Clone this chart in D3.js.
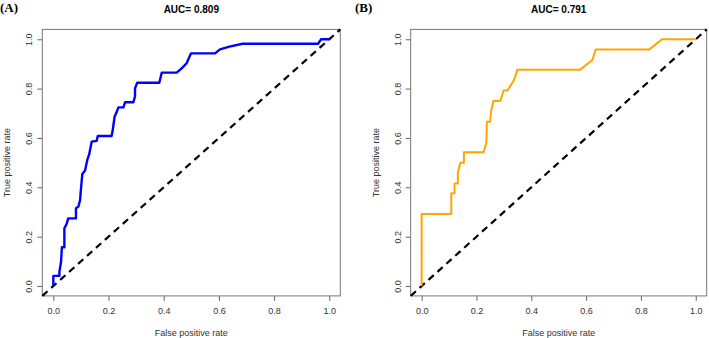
<!DOCTYPE html>
<html>
<head>
<meta charset="utf-8">
<script src="https://cdn.jsdelivr.net/npm/d3@7"></script>
<style>
  body { margin: 0; background: #fff; }
  svg { display: block; }
  text { font-family: "Liberation Sans", Arial, sans-serif; }
</style>
</head>
<body>
<div id="chart"></div>
<script>
// ROC curve A (FPR, TPR)
const fprA = [0, 0, 0.022, 0.022, 0.028, 0.031, 0.040, 0.040, 0.048, 0.054, 0.082, 0.082, 0.091, 0.097, 0.100, 0.105, 0.115, 0.123, 0.130, 0.133, 0.139, 0.157, 0.161, 0.211, 0.215, 0.222, 0.229, 0.236, 0.254, 0.260, 0.290, 0.296, 0.296, 0.304, 0.384, 0.393, 0.447, 0.465, 0.483, 0.499, 0.586, 0.604, 0.638, 0.686, 0.960, 0.970, 1.0];
const tprA = [0, 0.041, 0.041, 0.058, 0.099, 0.157, 0.157, 0.234, 0.251, 0.274, 0.274, 0.315, 0.322, 0.349, 0.392, 0.454, 0.468, 0.511, 0.534, 0.551, 0.585, 0.588, 0.608, 0.608, 0.630, 0.686, 0.704, 0.724, 0.724, 0.745, 0.745, 0.768, 0.801, 0.824, 0.824, 0.865, 0.865, 0.882, 0.903, 0.943, 0.943, 0.959, 0.970, 0.982, 0.982, 1.0, 1.0];

// ROC curve B
const fprB = [0, 0, 0.108, 0.108, 0.120, 0.120, 0.132, 0.132, 0.141, 0.154, 0.154, 0.226, 0.236, 0.238, 0.250, 0.253, 0.262, 0.287, 0.299, 0.313, 0.337, 0.349, 0.577, 0.623, 0.635, 0.831, 0.877, 1.0];
const tprB = [0, 0.292, 0.292, 0.376, 0.376, 0.416, 0.416, 0.459, 0.500, 0.500, 0.542, 0.542, 0.581, 0.666, 0.666, 0.707, 0.750, 0.750, 0.792, 0.792, 0.835, 0.876, 0.876, 0.916, 0.959, 0.959, 1.0, 1.0];

const tickValues = [0, 0.2, 0.4, 0.6, 0.8, 1.0];
const panelTags = ["(A)", "(B)"];
const aucLabels = ["AUC= 0.809", "AUC= 0.791"];
const curveColors = ["#0000ff", "#ffa500"];

const W = 709, H = 338;
const svg = d3.select("#chart").append("svg")
    .attr("width", W)
    .attr("height", H);

// plot regions (box) for each panel
const panels = [
    { left: 42.3, right: 340.3, tagX: 0, fpr: fprA, tpr: tprA, lw: 2.4 },
    { left: 410.7, right: 706.7, tagX: 355, fpr: fprB, tpr: tprB, lw: 2 }
];
const plotTop = 29.4, plotBottom = 295.9;

panels.forEach((p, i) => {
    const g = svg.append("g");

    // R-style 4% padding on both axes
    const x = d3.scaleLinear().domain([-0.04, 1.04]).range([p.left, p.right]);
    const y = d3.scaleLinear().domain([-0.04, 1.04]).range([plotBottom, plotTop]);

    // AXES
    const xAxis = g.append("g")
        .attr("transform", "translate(0," + plotBottom + ")")
        .call(d3.axisBottom(x).tickValues(tickValues).tickFormat(d3.format(".1f")).tickSize(5).tickPadding(7));
    const yAxis = g.append("g")
        .attr("transform", "translate(" + p.left + ",0)")
        .call(d3.axisLeft(y).tickValues(tickValues).tickFormat(d3.format(".1f")).tickSize(5).tickPadding(6));

    [xAxis, yAxis].forEach(a => {
        a.select(".domain").remove();
        a.selectAll(".tick line").attr("stroke", "#666");
        a.selectAll(".tick text")
            .attr("fill", "#333")
            .style("font-size", "9px")
            .style("font-family", "'Liberation Sans', Arial, sans-serif");
    });
    yAxis.selectAll(".tick text")
        .attr("x", null).attr("dy", null)
        .attr("text-anchor", "middle")
        .attr("transform", "translate(-10,0) rotate(-90)");

    // box
    g.append("rect")
        .attr("x", p.left)
        .attr("y", plotTop)
        .attr("width", p.right - p.left)
        .attr("height", plotBottom - plotTop)
        .attr("fill", "none")
        .attr("stroke", "#777")
        .attr("stroke-width", 1);

    // diagonal reference line across the whole region
    g.append("line")
        .attr("x1", x(-0.04)).attr("y1", y(-0.04))
        .attr("x2", x(1.04)).attr("y2", y(1.04))
        .attr("stroke", "#000")
        .attr("stroke-width", 2.2)
        .attr("stroke-dasharray", "7,5");

    // ROC curve
    const pts = p.fpr.map((v, k) => [v, p.tpr[k]]);
    g.append("path")
        .datum(pts)
        .attr("fill", "none")
        .attr("stroke", curveColors[i])
        .attr("stroke-width", p.lw)
        .attr("stroke-linejoin", "round")
        .attr("d", d3.line().x(d => x(d[0])).y(d => y(d[1])));

    // titles and labels
    const cx = (p.left + p.right) / 2;
    g.append("text")
        .attr("x", cx).attr("y", 13)
        .attr("text-anchor", "middle")
        .style("font-size", "10px")
        .style("font-weight", "bold")
        .text(aucLabels[i]);

    g.append("text")
        .attr("x", cx).attr("y", 336)
        .attr("text-anchor", "middle")
        .attr("fill", "#333")
        .style("font-size", "9px")
        .text("False positive rate");

    g.append("text")
        .attr("transform", "translate(" + (p.left - 32) + "," + ((plotTop + plotBottom) / 2) + ") rotate(-90)")
        .attr("text-anchor", "middle")
        .attr("fill", "#333")
        .style("font-size", "9px")
        .text("True positive rate");

    g.append("text")
        .attr("x", p.tagX).attr("y", 12)
        .style("font-family", "'Liberation Serif', 'Times New Roman', serif")
        .style("font-size", "13px")
        .style("font-weight", "bold")
        .text(panelTags[i]);
});
</script>
</body>
</html>
